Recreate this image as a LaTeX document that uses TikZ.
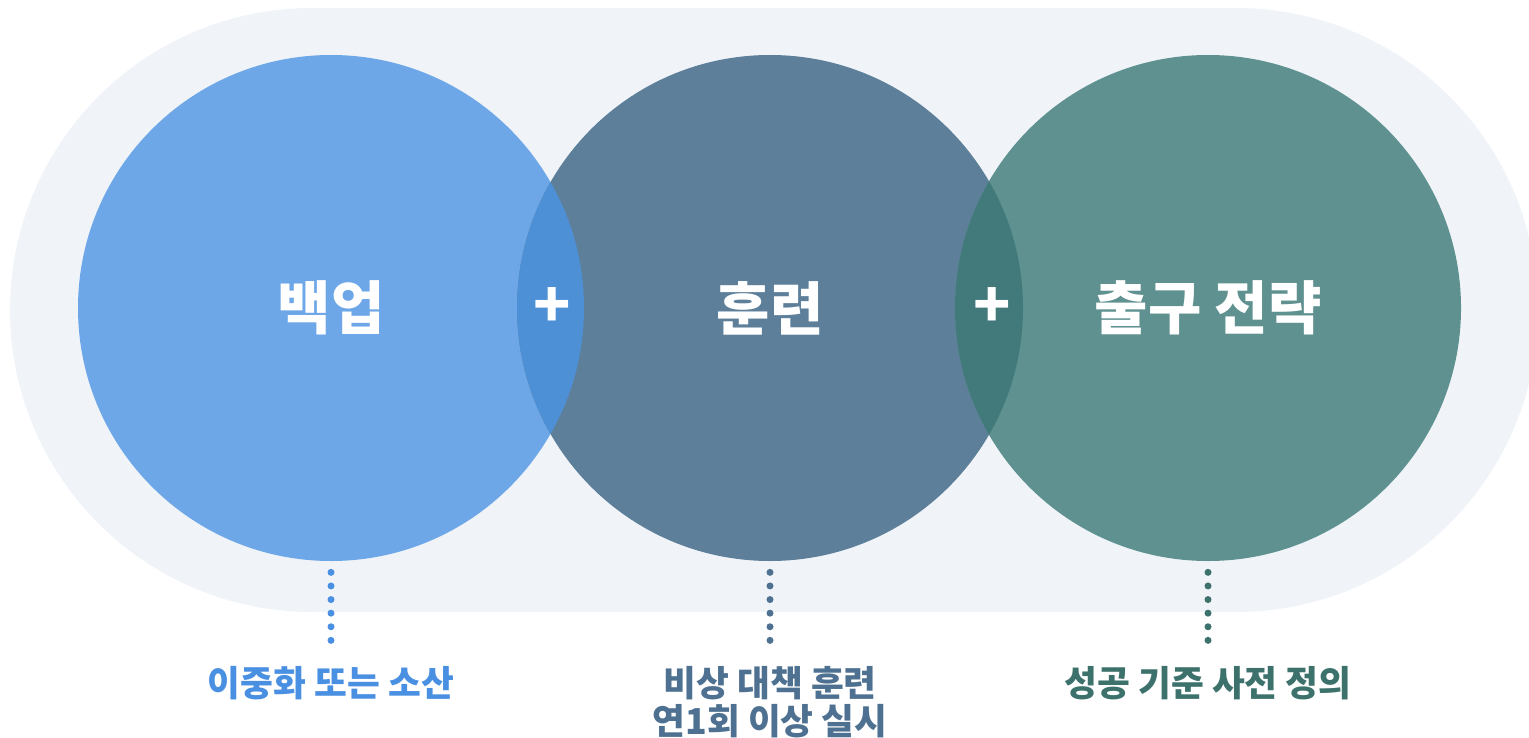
\documentclass[tikz,border=0pt]{standalone}
\usepackage{fontspec}
\newfontfamily\kr{Noto Sans CJK KR}
\definecolor{bgfill}{HTML}{F0F4F9}
\definecolor{cA}{HTML}{6DA7E8}
\definecolor{cB}{HTML}{5D7F9A}
\definecolor{cC}{HTML}{5E918F}
\definecolor{lensAB}{HTML}{4E90D6}
\definecolor{lensBC}{HTML}{427A7C}
\definecolor{labA}{HTML}{4A90E2}
\definecolor{labB}{HTML}{4E7191}
\definecolor{labC}{HTML}{3D726C}

\begin{document}
\begin{tikzpicture}[
    ring/.style={circle,minimum size=10.12cm,inner sep=0pt,text=white,font=\kr\bfseries\fontsize{33}{36}\selectfont},
    plus/.style={text=white,inner sep=0pt,font=\kr\bfseries\fontsize{35}{36}\selectfont},
    lab/.style={align=center,inner sep=0pt,font=\kr\bfseries\fontsize{20.3}{21.6}\selectfont},
    dots/.style={line width=0.14cm,line cap=round,dash pattern=on 0pt off 0.272cm}
]
\useasboundingbox (0,0) rectangle (30.58,14.74);
\clip (0,0) rectangle (30.58,14.74);
\fill[bgfill,rounded corners=6.04cm] (0.2,2.5) rectangle (30.76,14.58);

\node[ring,fill=cA] (backup) at (6.62,8.58) {백업};
\node[ring,fill=cB] (drill) at (15.4,8.58) {훈련};
\node[ring,fill=cC] (exit) at (24.16,8.58) {출구 전략};

\begin{scope}
    \clip (backup.center) circle (5.06);
    \fill[lensAB] (drill.center) circle (5.06);
\end{scope}
\begin{scope}
    \clip (drill.center) circle (5.06);
    \fill[lensBC] (exit.center) circle (5.06);
\end{scope}
\node[plus] (plusA) at (11.04,8.58) {+};
\node[plus] (plusB) at (19.84,8.58) {+};

\node[lab,text=labA] (backupnote) at (6.62,1.08) {이중화 또는 소산};
\node[lab,text=labB] (drillnote) at (15.4,0.69) {비상 대책 훈련\\연1회 이상 실시};
\node[lab,text=labC] (exitnote) at (24.16,1.08) {성공 기준 사전 정의};

\draw[dots,labA] ([yshift=-0.22cm]backup.south) -- ([yshift=-1.585cm]backup.south);
\draw[dots,labB] ([yshift=-0.22cm]drill.south) -- ([yshift=-1.585cm]drill.south);
\draw[dots,labC] ([yshift=-0.22cm]exit.south) -- ([yshift=-1.585cm]exit.south);
\end{tikzpicture}
\end{document}
